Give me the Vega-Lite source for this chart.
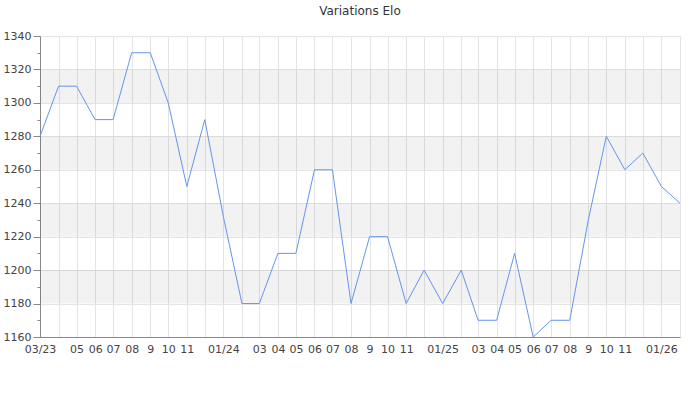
{
  "$schema": "https://vega.github.io/schema/vega-lite/v6.json",
  "width": 640,
  "height": 301,
  "autosize": "none",
  "padding": {"left": 40, "top": 36, "right": 20, "bottom": 63},
  "title": {"text": "Variations Elo", "fontSize": 12, "fontWeight": "normal", "color": "#333", "font": "DejaVu Sans", "offset": 12},
  "config": {"view": {"stroke": null}, "font": "DejaVu Sans"},
  "datasets": {
    "bands": [
      {"lo": 1180, "hi": 1200},
      {"lo": 1220, "hi": 1240},
      {"lo": 1260, "hi": 1280},
      {"lo": 1300, "hi": 1320}
    ],
    "elo": [
      {"date": "2023-03-01", "elo": 1280},
      {"date": "2023-04-01", "elo": 1310},
      {"date": "2023-05-01", "elo": 1310},
      {"date": "2023-06-01", "elo": 1290},
      {"date": "2023-07-01", "elo": 1290},
      {"date": "2023-08-01", "elo": 1330},
      {"date": "2023-09-01", "elo": 1330},
      {"date": "2023-10-01", "elo": 1300},
      {"date": "2023-11-01", "elo": 1250},
      {"date": "2023-12-01", "elo": 1290},
      {"date": "2024-01-01", "elo": 1232},
      {"date": "2024-02-01", "elo": 1180},
      {"date": "2024-03-01", "elo": 1180},
      {"date": "2024-04-01", "elo": 1210},
      {"date": "2024-05-01", "elo": 1210},
      {"date": "2024-06-01", "elo": 1260},
      {"date": "2024-07-01", "elo": 1260},
      {"date": "2024-08-01", "elo": 1180},
      {"date": "2024-09-01", "elo": 1220},
      {"date": "2024-10-01", "elo": 1220},
      {"date": "2024-11-01", "elo": 1180},
      {"date": "2024-12-01", "elo": 1200},
      {"date": "2025-01-01", "elo": 1180},
      {"date": "2025-02-01", "elo": 1200},
      {"date": "2025-03-01", "elo": 1170},
      {"date": "2025-04-01", "elo": 1170},
      {"date": "2025-05-01", "elo": 1210},
      {"date": "2025-06-01", "elo": 1160},
      {"date": "2025-07-01", "elo": 1170},
      {"date": "2025-08-01", "elo": 1170},
      {"date": "2025-09-01", "elo": 1230},
      {"date": "2025-10-01", "elo": 1280},
      {"date": "2025-11-01", "elo": 1260},
      {"date": "2025-12-01", "elo": 1270},
      {"date": "2026-01-01", "elo": 1250},
      {"date": "2026-02-01", "elo": 1240}
    ]
  },
  "layer": [
    {
      "data": {"name": "bands"},
      "mark": {"type": "rect", "fill": "#000", "fillOpacity": 0.05},
      "encoding": {
        "y": {
          "field": "lo",
          "type": "quantitative",
          "scale": {"domain": [1160, 1340], "nice": false, "zero": false},
          "axis": {
            "title": null,
            "values": [1160,1170,1180,1190,1200,1210,1220,1230,1240,1250,1260,1270,1280,1290,1300,1310,1320,1330,1340],
            "format": "d",
            "labelExpr": "datum.value % 20 == 0 ? datum.label : ''",
            "labelOverlap": false,
            "labelFlush": false,
            "labelFontSize": 11,
            "labelColor": "#444",
            "labelPadding": 2,
            "tickColor": "#888",
            "tickSize": {"condition": {"test": "datum.value % 20 == 0", "value": 7}, "value": 3},
            "gridColor": "#e4e4e4",
            "gridOpacity": {"condition": {"test": "datum.value % 20 == 0", "value": 1}, "value": 0},
            "domainColor": "#888"
          }
        },
        "y2": {"field": "hi"}
      }
    },
    {
      "data": {"name": "elo"},
      "mark": {"type": "line", "color": "#6495ed", "strokeWidth": 1},
      "encoding": {
        "x": {
          "field": "date",
          "type": "temporal",
          "scale": {"type": "utc", "domain": ["2023-03-01", "2026-02-01"], "nice": false},
          "axis": {
            "title": null,
            "values": ["2023-03-01","2023-04-01","2023-05-01","2023-06-01","2023-07-01","2023-08-01","2023-09-01","2023-10-01","2023-11-01","2023-12-01","2024-01-01","2024-02-01","2024-03-01","2024-04-01","2024-05-01","2024-06-01","2024-07-01","2024-08-01","2024-09-01","2024-10-01","2024-11-01","2024-12-01","2025-01-01","2025-02-01","2025-03-01","2025-04-01","2025-05-01","2025-06-01","2025-07-01","2025-08-01","2025-09-01","2025-10-01","2025-11-01","2025-12-01","2026-01-01","2026-02-01"],
            "labelExpr": "utcFormat(datum.value, '%Y-%m') == '2023-03' ? '03/23' : (utcFormat(datum.value, '%Y-%m') == '2023-04' ? '' : (utcmonth(datum.value) == 0 ? utcFormat(datum.value, '%m/%y') : (utcmonth(datum.value) == 11 || utcmonth(datum.value) == 1 ? '' : (utcmonth(datum.value) == 8 ? '9' : utcFormat(datum.value, '%m')))))",
            "labelOverlap": false,
            "labelFlush": false,
            "labelFontSize": 11,
            "labelColor": "#444",
            "labelPadding": 6,
            "ticks": false,
            "grid": true,
            "gridColor": "#e4e4e4",
            "domainColor": "#888"
          }
        },
        "y": {
          "field": "elo",
          "type": "quantitative",
          "scale": {"domain": [1160, 1340], "nice": false, "zero": false},
          "axis": {
            "title": null,
            "values": [1160,1170,1180,1190,1200,1210,1220,1230,1240,1250,1260,1270,1280,1290,1300,1310,1320,1330,1340],
            "format": "d",
            "labelExpr": "datum.value % 20 == 0 ? datum.label : ''",
            "labelOverlap": false,
            "labelFlush": false,
            "labelFontSize": 11,
            "labelColor": "#444",
            "labelPadding": 2,
            "tickColor": "#888",
            "tickSize": {"condition": {"test": "datum.value % 20 == 0", "value": 7}, "value": 3},
            "gridColor": "#e4e4e4",
            "gridOpacity": {"condition": {"test": "datum.value % 20 == 0", "value": 1}, "value": 0},
            "domainColor": "#888"
          }
        }
      }
    }
  ]
}
